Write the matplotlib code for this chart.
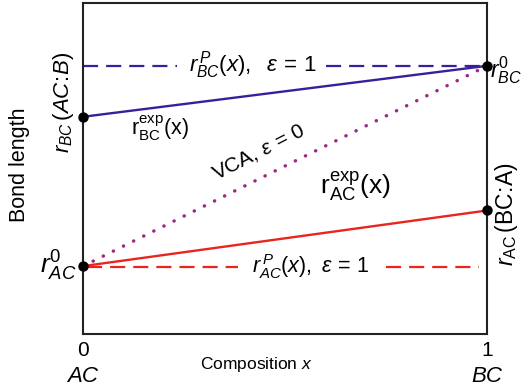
import matplotlib
matplotlib.use("Agg")
import matplotlib.pyplot as plt

plt.rcParams['font.family'] = ['Liberation Sans', 'DejaVu Sans']
plt.rcParams['mathtext.fontset'] = 'custom'
plt.rcParams['mathtext.rm'] = 'Liberation Sans'
plt.rcParams['mathtext.it'] = 'Liberation Sans:italic'
plt.rcParams['mathtext.bf'] = 'Liberation Sans:bold'

# data (arbitrary bond-length units)
x_ends = [0.0, 1.0]
r_AC0 = 2.05
r_BC0 = 8.10
r_BC_AC_B = 6.56
r_AC_BC_A = 3.73
r_BC_P = 8.10
r_AC_P = 2.02
bc_dash_segments = [(0.0, 0.233), (0.60, 0.985)]
ac_dash_segments = [(0.01, 0.384), (0.75, 0.98)]

BLUE = '#3a1f9c'
RED = '#e8261e'
PURPLE = '#9c2a80'

fig = plt.figure(figsize=(5.27, 3.9), dpi=100)
ax = fig.add_axes([0.1575, 0.1436, 0.767, 0.849])
ax.set_xlim(0, 1)
ax.set_ylim(0, 10)
ax.set_xticks([])
ax.set_yticks([])
for s in ax.spines.values():
    s.set_linewidth(1.5)
    s.set_color('#222222')

# dashed strain lines
for a, b in bc_dash_segments:
    ax.plot([a, b], [r_BC_P, r_BC_P], color=BLUE, lw=1.6, dashes=(6.8, 3.6))
for a, b in ac_dash_segments:
    ax.plot([a, b], [r_AC_P, r_AC_P], color=RED, lw=1.6, dashes=(6.8, 3.6))

# VCA dotted
ax.plot(x_ends, [r_AC0, r_BC0], color=PURPLE, lw=2.5, dashes=(0.05, 3.2),
        dash_capstyle='round')
# experimental lines
ax.plot(x_ends, [r_BC_AC_B, r_BC0], color=BLUE, lw=1.7)
ax.plot(x_ends, [r_AC0, r_AC_BC_A], color=RED, lw=1.7)

# end points
ax.plot([0, 0, 1, 1], [r_BC_AC_B, r_AC0, r_BC0, r_AC_BC_A], 'o', color='black',
        ms=6.5, clip_on=False, zorder=5)

# in-plot labels
ax.text(0.42, 8.12, r'$r^{\,P}_{BC}(x),\ \ \varepsilon\,=\,1$', fontsize=16,
        ha='center', va='center')
ax.text(0.19, 6.2, r'$\mathrm{r}^{\mathrm{exp}}_{\mathrm{BC}}(\mathrm{x})$', fontsize=15.5,
        ha='center', va='center')
ax.text(0.435, 5.5, r'VCA, $\varepsilon\,=\,0$', fontsize=15, ha='center',
        va='center', rotation=27)
ax.text(0.673, 4.45, r'$\mathrm{r}^{\mathrm{exp}}_{\mathrm{AC}}(\mathrm{x})$', fontsize=19,
        ha='center', va='center')
ax.text(0.562, 2.05, r'$r^{\,P}_{AC}(x),\ \varepsilon\,=\,1$', fontsize=15.5,
        ha='center', va='center')

# side labels
fig.text(20 / 527, 1 - 165 / 390, 'Bond length', fontsize=15.5, rotation=90,
         ha='center', va='center')
fig.text(63 / 527, 1 - 102 / 390, r'$r_{BC}\,(AC\!:\!B)$', fontsize=16,
         rotation=90, ha='center', va='center')
fig.text(58 / 527, 1 - 266 / 390, r'$r^{0}_{AC}$', fontsize=19,
         ha='center', va='center')
fig.text(506 / 527, 1 - 70 / 390, r'$r^{0}_{BC}$', fontsize=16.5,
         ha='center', va='center')
fig.text(506 / 527, 1 - 214 / 390, r'$r_{\mathrm{AC}}\,(\mathrm{BC}\!:\!\mathrm{A})$',
         fontsize=16.5, rotation=90, ha='center', va='center')

# axis end labels
fig.text(83 / 527, 1 - 351 / 390, '0', fontsize=15, ha='center', va='center')
fig.text(83 / 527, 1 - 376 / 390, 'AC', fontsize=16, style='italic',
         ha='center', va='center')
fig.text(487 / 527, 1 - 351 / 390, '1', fontsize=15, ha='center', va='center')
fig.text(487 / 527, 1 - 376 / 390, 'BC', fontsize=16, style='italic',
         ha='center', va='center')
fig.text(256 / 527, 1 - 365 / 390, r'Composition $x$', fontsize=12.5,
         ha='center', va='center')

fig.savefig('out.png', dpi=100)
